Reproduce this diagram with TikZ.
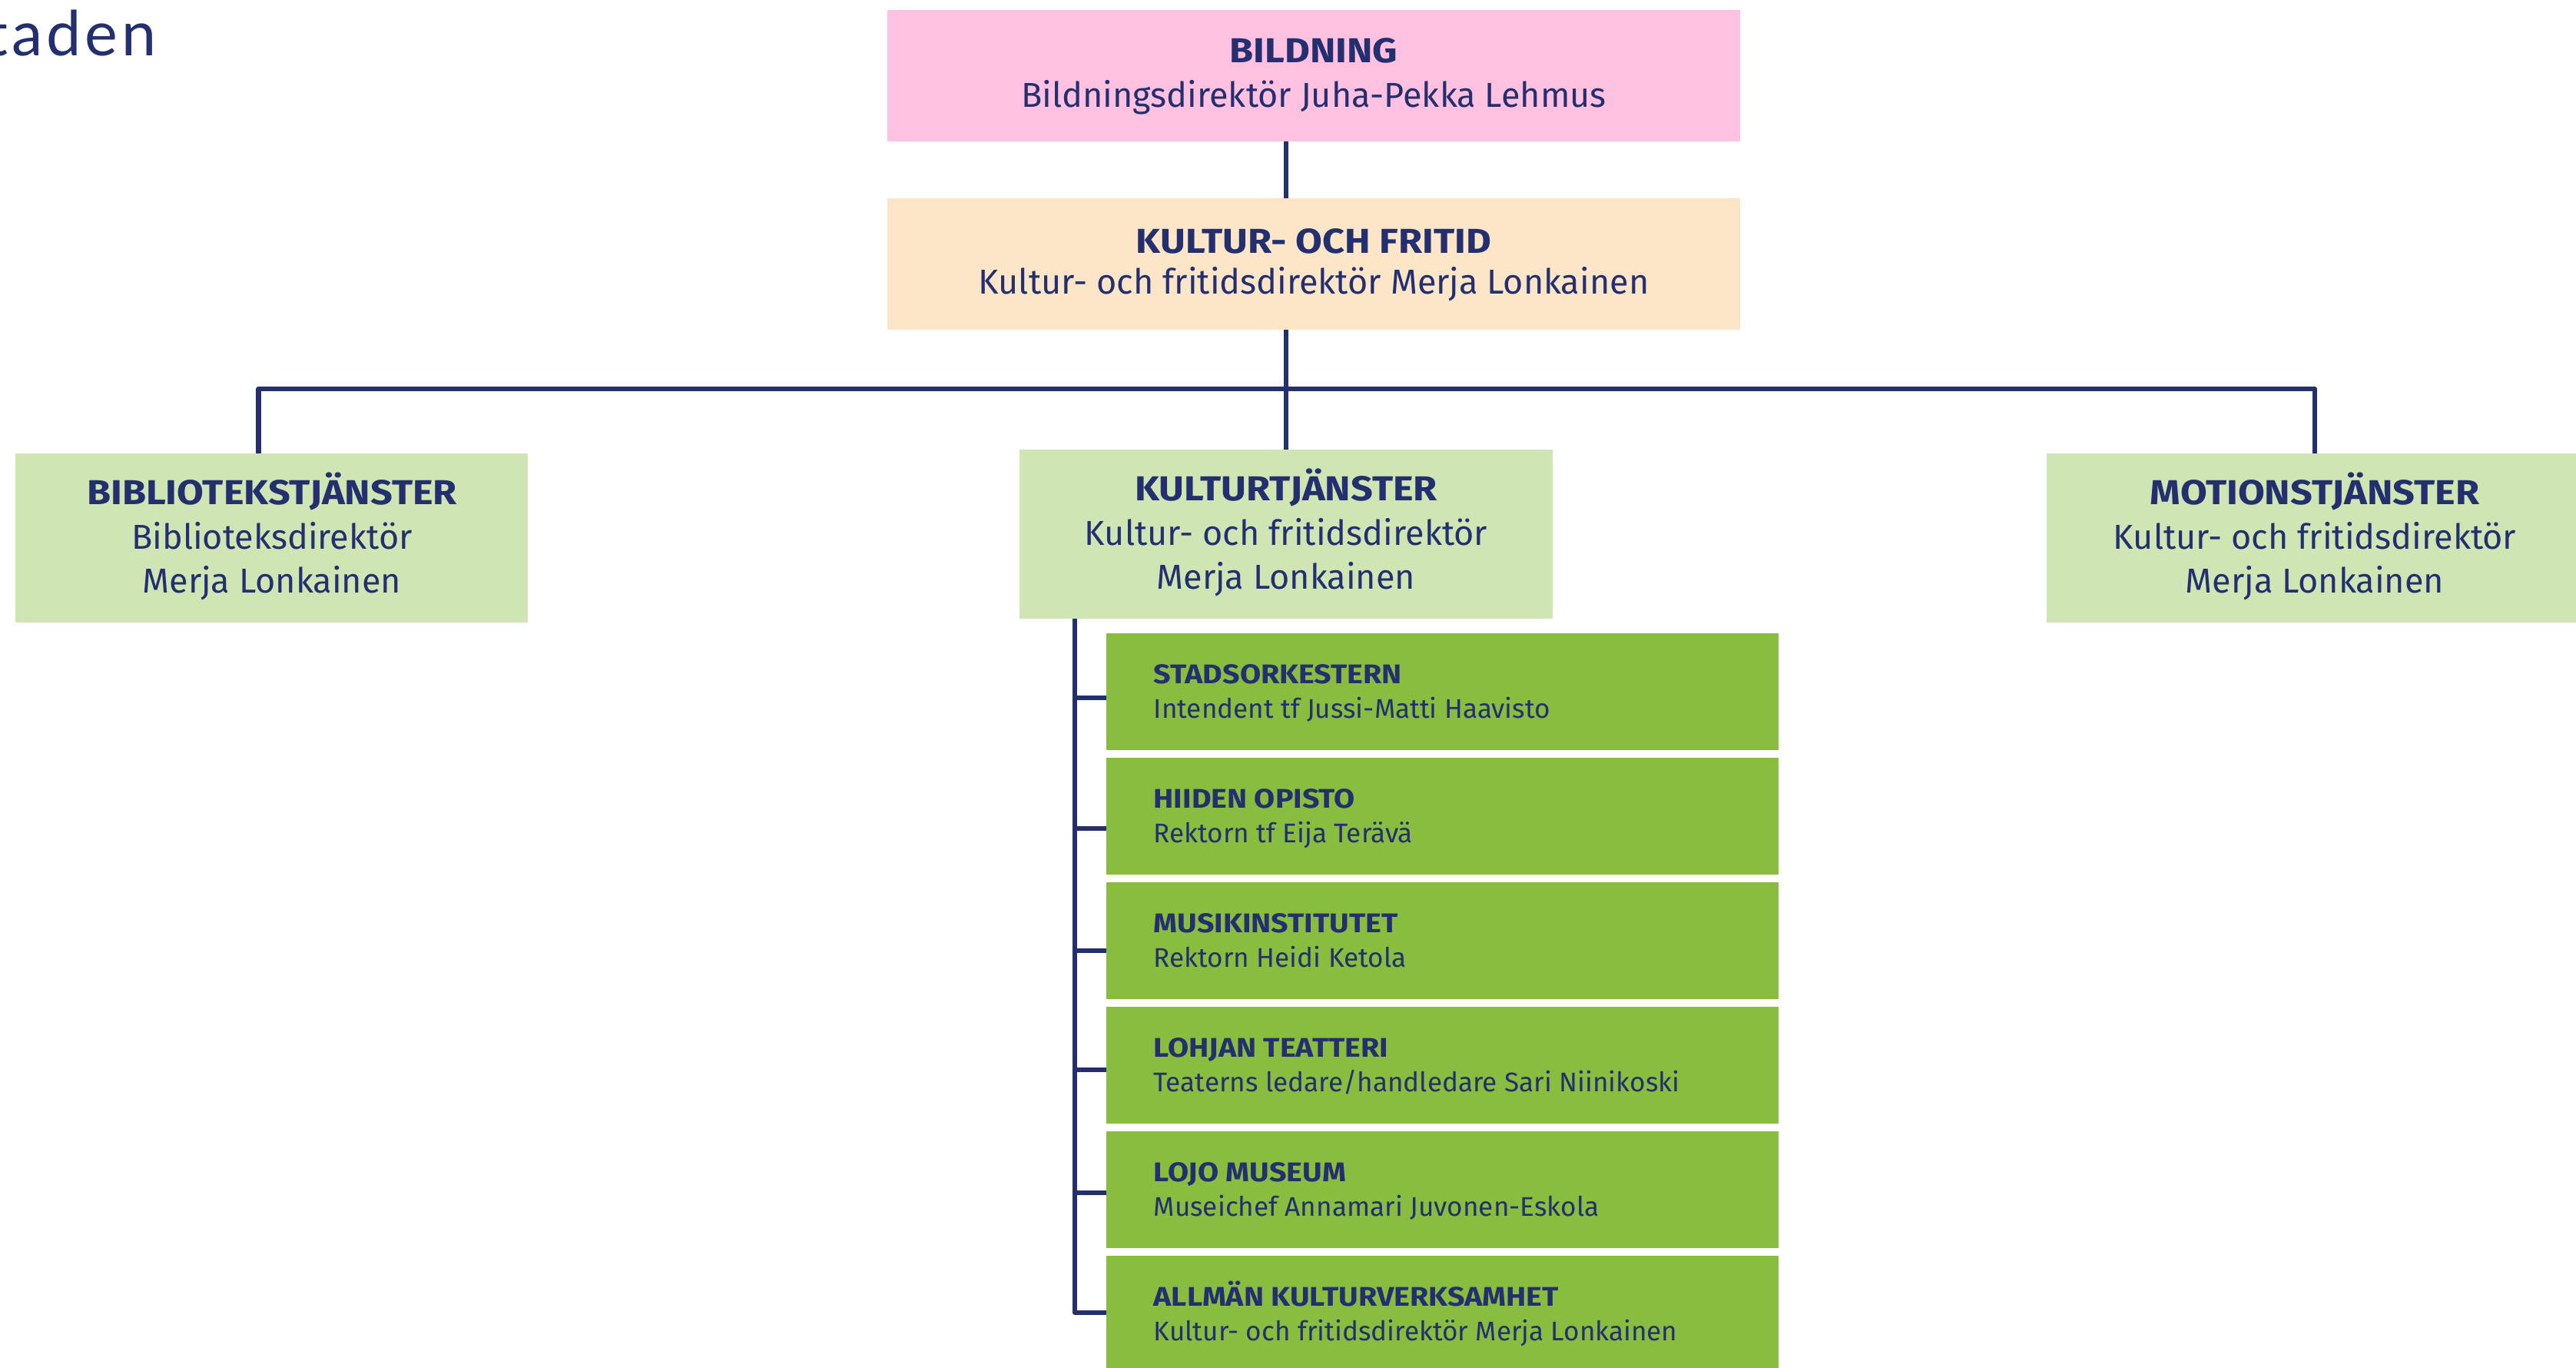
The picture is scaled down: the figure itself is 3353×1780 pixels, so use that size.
\documentclass[tikz,border=0pt]{standalone}
\usepackage{fontspec}
\setmainfont{Fira Sans}[BoldFeatures={FakeStretch=1.12}]
\newfontfamily\logofont{Lato}[LetterSpace=6]
\definecolor{navy}{HTML}{232F6E}
\definecolor{pinkbox}{HTML}{FFC1DF}
\definecolor{peachbox}{HTML}{FDE6C8}
\definecolor{palegreen}{HTML}{D0E5B4}
\definecolor{deepgreen}{HTML}{88BD40}
\tikzset{
  box/.style={rectangle, draw=none, inner sep=0pt, outer sep=0pt},
  bigbox/.style={box, minimum width=11.10cm, minimum height=1.71cm},
  midbox/.style={box, fill=palegreen, minimum height=2.2cm},
  unitbox/.style={box, fill=deepgreen, minimum width=8.74cm, minimum height=1.52cm},
  bigtitle/.style={anchor=base, inner sep=0pt, text=navy, font=\fontsize{12.8}{15}\selectfont\bfseries},
  bigsub/.style={anchor=base, inner sep=0pt, text=navy, font=\fontsize{12.8}{15}\selectfont},
  unittitle/.style={anchor=base west, inner sep=0pt, text=navy, font=\fontsize{10}{12}\selectfont\bfseries},
  unitsub/.style={anchor=base west, inner sep=0pt, text=navy, font=\fontsize{10}{12}\selectfont},
  conn/.style={draw=navy, line width=1.75pt, line join=round}
}
\begin{document}
\begin{tikzpicture}[x=0.01cm, y=-0.01cm]
\useasboundingbox (0,0) rectangle (3353,1780);
% logo fragment
\node[anchor=base east, inner sep=0pt, text=navy, font=\logofont\fontsize{23}{26}\selectfont] (logo) at (204,73) {taden};

% top boxes
\node[bigbox, fill=pinkbox] (bild) at (1710,98.5) {};
\node[bigtitle] (bildT) at (1710,82) {BILDNING};
\node[bigsub] (bildS) at (1710,140) {Bildningsdirektör Juha-Pekka Lehmus};

\node[bigbox, fill=peachbox] (kf) at (1710,343.5) {};
\node[bigtitle] (kfT) at (1710,330) {KULTUR- OCH FRITID};
\node[bigsub] (kfS) at (1710,383) {Kultur- och fritidsdirektör Merja Lonkainen};

% middle row
\node[midbox, minimum width=6.67cm] (bib) at (353.5,700) {};
\node[bigtitle] (bibT) at (354,657) {BIBLIOTEKSTJÄNSTER};
\node[bigsub] (bibS) at (354,715) {Biblioteksdirektör};
\node[bigsub] (bibN) at (354,772) {Merja Lonkainen};

\node[midbox, minimum width=6.94cm] (kult) at (1674,695) {};
\node[bigtitle] (kultT) at (1674,652) {KULTURTJÄNSTER};
\node[bigsub] (kultS) at (1674,710) {Kultur- och fritidsdirektör};
\node[bigsub] (kultN) at (1674,767) {Merja Lonkainen};

\node[midbox, minimum width=6.98cm] (mot) at (3013,700) {};
\node[bigtitle] (motT) at (3013,657) {MOTIONSTJÄNSTER};
\node[bigsub] (motS) at (3013,715) {Kultur- och fritidsdirektör};
\node[bigsub] (motN) at (3013,772) {Merja Lonkainen};

% unit boxes
\foreach \i/\top/\ttl/\sub in {
  1/824/STADSORKESTERN/Intendent tf Jussi-Matti Haavisto,
  2/986/HIIDEN OPISTO/Rektorn tf Eija Terävä,
  3/1148/MUSIKINSTITUTET/Rektorn Heidi Ketola,
  4/1310/LOHJAN TEATTERI/Teaterns ledare\slash handledare Sari Niinikoski,
  5/1472/LOJO MUSEUM/Museichef Annamari Juvonen-Eskola,
  6/1634/ALLMÄN KULTURVERKSAMHET/Kultur- och fritidsdirektör Merja Lonkainen}{
  \node[unitbox, anchor=north west] (u\i) at (1440,\top) {};
  \node[unittitle] (u\i T) at (1501,\top+66) {\ttl};
  \node[unitsub] (u\i S) at (1501,\top+111) {\sub};
}

% connectors
\coordinate (bus) at (1674,506);
\coordinate (vx) at (1399,805);
\draw[conn] (bild.south -| kult.north) -- (kf.north -| kult.north);
\draw[conn] (kf.south -| kult.north) -- (kult.north);
\draw[conn] ([xshift=-0.17cm]bib.north) |- (mot.north |- bus) -- (mot.north);
\draw[conn] (vx) -- (vx |- 0,1708) -- (u6.west |- 0,1708);
\foreach \i/\yy in {1/908, 2/1078, 3/1237, 4/1392, 5/1552}{
  \draw[conn] (vx |- 0,\yy) -- (u\i.west |- 0,\yy);
}
\end{tikzpicture}
\end{document}
